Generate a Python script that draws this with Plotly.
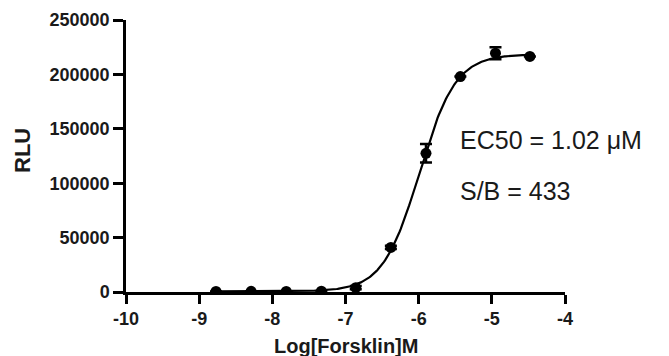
import numpy as np
import plotly.graph_objects as go

# Data
log_conc = [-8.77, -8.29, -7.81, -7.33, -6.86, -6.38, -5.90, -5.43, -4.95, -4.48]
rlu = [500, 600, 450, 700, 4000, 41000, 127500, 198000, 219500, 216500]
rlu_err = [0, 0, 0, 0, 1500, 1500, 8500, 0, 5500, 0]

# Fitted 4-parameter logistic curve parameters
fit_bottom = 503
fit_top = 218500
fit_logec50 = -5.99
fit_hill = 1.75

x_ticks = [-10, -9, -8, -7, -6, -5, -4]
y_ticks = [0, 50000, 100000, 150000, 200000, 250000]

xc = np.linspace(min(log_conc), max(log_conc), 300)
yc = fit_bottom + (fit_top - fit_bottom) / (1 + 10 ** ((fit_logec50 - xc) * fit_hill))

# page offset (body margin) compensation
OFF = 8
W, H = 669 - OFF, 356 - OFF
ML, MR, MT, MB = 126 - OFF, 104, 20 - OFF, 64

fig = go.Figure()
fig.add_trace(go.Scatter(x=xc, y=yc, mode="lines",
                         line=dict(color="black", width=2.2), hoverinfo="skip"))
fig.add_trace(go.Scatter(
    x=log_conc, y=rlu, mode="markers",
    marker=dict(color="black", size=11, symbol="circle"),
    error_y=dict(type="data", array=rlu_err, visible=True, color="black",
                 thickness=2.5, width=6),
))

tickfont = dict(family="Liberation Sans, Arial", size=18, color="#1a1a1a", weight="bold")

fig.update_layout(
    width=W, height=H,
    margin=dict(l=ML, r=MR, t=MT, b=MB, autoexpand=False),
    paper_bgcolor="white", plot_bgcolor="white",
    showlegend=False,
    xaxis=dict(range=[-10, -4], tickvals=x_ticks, ticktext=[str(v) for v in x_ticks],
               showgrid=False, zeroline=False, showline=True, linecolor="black",
               linewidth=2.5, ticks="outside", ticklen=9, tickwidth=2.5, tickcolor="black",
               tickfont=tickfont),
    yaxis=dict(range=[0, 250000], tickvals=y_ticks, ticktext=[str(v) for v in y_ticks],
               showgrid=False, zeroline=False, showline=True, linecolor="black",
               linewidth=2.5, ticks="outside", ticklen=10, tickwidth=2.5, tickcolor="black",
               tickfont=tickfont),
    annotations=[
        dict(text="RLU", x=22, y=151, showarrow=False, xanchor="center", yanchor="middle",
             textangle=-90, font=dict(family="Liberation Sans, Arial", size=22,
                                      color="#1a1a1a", weight="bold")),
        dict(text="Log[Forsklin]M", x=346, y=346, showarrow=False,
             xanchor="center", yanchor="middle",
             font=dict(family="Liberation Sans, Arial", size=20, color="#1a1a1a",
                       weight="bold")),
        dict(text="EC50 = 1.02 \u03bcM", x=458, y=140, showarrow=False,
             xanchor="left", yanchor="middle",
             font=dict(family="Liberation Sans, Arial", size=25, color="#1a1a1a")),
        dict(text="S/B = 433", x=458, y=191, showarrow=False,
             xanchor="left", yanchor="middle",
             font=dict(family="Liberation Sans, Arial", size=25, color="#1a1a1a")),
    ],
)

# convert window pixel positions of annotations to paper coords
pw = W - ML - MR
ph = H - MT - MB
for a in fig.layout.annotations:
    px, py = a.x - OFF, a.y - OFF
    a.xref = "paper"; a.yref = "paper"
    a.x = (px - ML) / pw
    a.y = (H - MB - py) / ph

fig.write_html("out.html")
